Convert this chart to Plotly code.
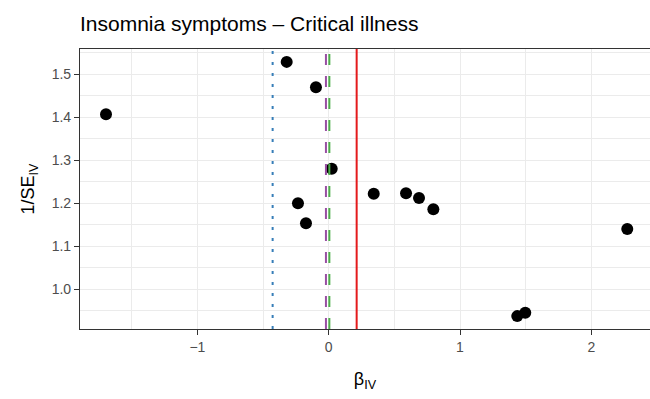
import plotly.graph_objects as go

# IV estimates and their precision (1/SE)
beta_iv = [-1.696, -0.320, -0.097, 0.023, 0.343, -0.234, -0.173,
           0.589, 0.688, 0.797, 1.436, 1.497, 2.274]
inv_se = [1.407, 1.529, 1.470, 1.280, 1.222, 1.200, 1.153,
          1.223, 1.212, 1.186, 0.937, 0.945, 1.140]

# Summary estimates drawn as vertical reference lines
method_names = ["MR-Egger", "Weighted median", "Weighted mode", "IVW"]
method_estimates = [-0.427, -0.021, 0.005, 0.213]
method_colors = ["#377EB8", "#984EA3", "#4DAF4A", "#E41A1C"]
method_dashes = ["3px,8px", "11px,11px", "11px,11px", "solid"]

x_ticks = [-1, 0, 1, 2]
x_ticktext = ["\u22121", "0", "1", "2"]
y_ticks = [1.0, 1.1, 1.2, 1.3, 1.4, 1.5]
y_ticktext = ["1.0", "1.1", "1.2", "1.3", "1.4", "1.5"]

fig = go.Figure()
fig.add_trace(go.Scatter(
    x=beta_iv, y=inv_se, mode="markers",
    marker=dict(color="black", size=12, line=dict(width=0)),
    showlegend=False, hoverinfo="x+y",
))

for name, est, col, dash in zip(method_names, method_estimates, method_colors, method_dashes):
    fig.add_shape(type="line", xref="x", yref="paper", x0=est, x1=est, y0=0, y1=1,
                  line=dict(color=col, width=2, dash=dash), layer="above", name=name)

axis_font = dict(family="Liberation Sans, Arial, sans-serif", size=14, color="#4d4d4d")
fig.update_layout(
    width=650, height=399,
    margin=dict(l=80, r=0, t=49, b=70),
    paper_bgcolor="white", plot_bgcolor="white",
    font=dict(family="Liberation Sans, Arial, sans-serif", color="black"),
    title=dict(text="Insomnia symptoms \u2013 Critical illness", x=80 / 650, xanchor="left",
               y=1 - 31 / 399, yanchor="bottom", font=dict(size=21, color="black")),
    xaxis=dict(
        range=[-1.894, 2.447], tickvals=x_ticks, ticktext=x_ticktext, tickfont=axis_font,
        showgrid=True, gridcolor="#ebebeb", gridwidth=1.1, zeroline=False,
        minor=dict(tickvals=[-1.5, -0.5, 0.5, 1.5], showgrid=True, gridcolor="#ebebeb", gridwidth=0.55),
        showline=True, linecolor="#333333", linewidth=1.1, mirror=True,
        ticks="outside", ticklen=5, tickcolor="#333333", tickwidth=1.1,
        title=dict(text="\u03b2<sub>IV</sub>", font=dict(size=18, color="black"), standoff=18),
    ),
    yaxis=dict(
        range=[0.907, 1.559], tickvals=y_ticks, ticktext=y_ticktext, tickfont=axis_font,
        showgrid=True, gridcolor="#ebebeb", gridwidth=1.1, zeroline=False,
        minor=dict(tickvals=[0.95, 1.05, 1.15, 1.25, 1.35, 1.45, 1.55], showgrid=True,
                   gridcolor="#ebebeb", gridwidth=0.55),
        showline=True, linecolor="#333333", linewidth=1.1,
        ticks="outside", ticklen=5, tickcolor="#333333", tickwidth=1.1,
        title=dict(text="1/SE<sub>IV</sub>", font=dict(size=18, color="black"), standoff=12),
    ),
)

fig.write_html("out.html")
